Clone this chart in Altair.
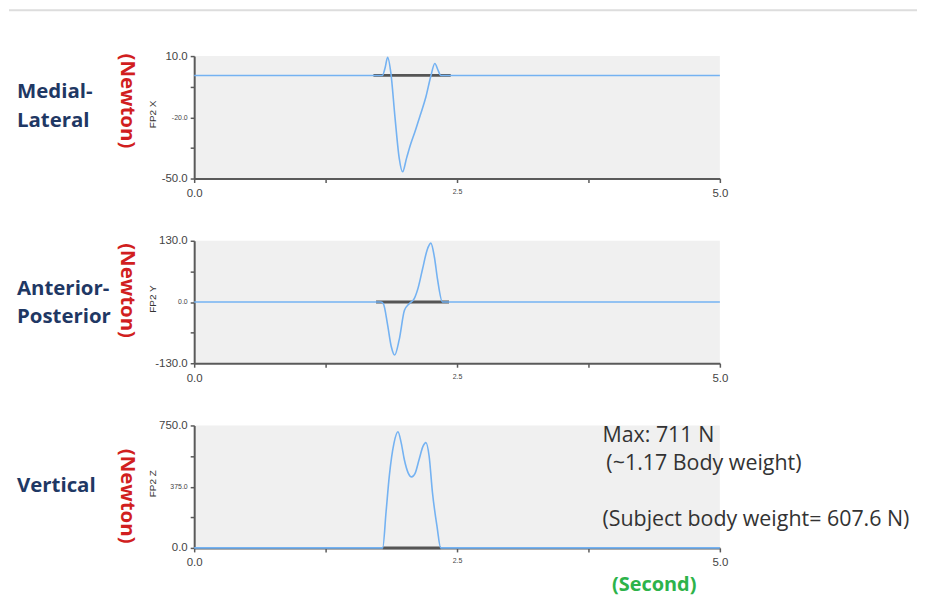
import altair as alt
import pandas as pd

# ---------------- data ----------------
time_ticks = [0.0, 1.25, 2.5, 3.75, 5.0]

ml_t = [0.0, 1.70, 1.79, 1.815, 1.84, 1.87, 1.91, 1.95, 1.982, 2.02, 2.06, 2.099, 2.15, 2.203, 2.25, 2.289, 2.32, 2.345, 2.45, 5.0]
ml_v = [0.5, 0.5, 0.5, 4.0, 9.4, 2.0, -20.0, -40.0, -46.7, -40.0, -33.0, -27.2, -19.0, -10.2, 0.0, 6.4, 3.0, 0.5, 0.5, 0.5]
ml_seg_t = [1.705, 2.44]
ml_seg_v = [0.5, 0.5]
ml_ticks = [10.0, -5.0, -20.0, -35.0, -50.0]

ap_t = [0.0, 1.777, 1.80, 1.84, 1.875, 1.907, 1.95, 2.0, 2.045, 2.093, 2.13, 2.172, 2.215, 2.251, 2.285, 2.314, 2.361, 5.0]
ap_v = [0.0, 0.0, -4.0, -49.0, -95.0, -112.5, -80.0, -17.6, -3.5, 7.0, 30.0, 70.0, 110.0, 125.0, 95.0, 49.0, 0.0, 0.0]
ap_seg_t = [1.73, 2.424]
ap_seg_v = [0.0, 0.0]
ap_ticks = [130.0, 65.0, 0.0, -65.0, -130.0]

vt_t = [0.0, 1.793, 1.825, 1.856, 1.90, 1.938, 1.97, 1.998, 2.035, 2.068, 2.10, 2.14, 2.175, 2.204, 2.235, 2.266, 2.31, 2.345, 5.0]
vt_v = [0.0, 0.0, 220.0, 441.0, 640.0, 711.0, 640.0, 543.0, 460.0, 435.0, 455.0, 543.0, 620.0, 645.0, 560.0, 341.0, 130.0, 0.0, 0.0]
vt_seg_t = [1.793, 2.345]
vt_seg_v = [0.0, 0.0]
vt_ticks = [750.0, 562.5, 375.0, 187.5, 0.0]

panel_names = [["Medial-", "Lateral"], ["Anterior-", "Posterior"], ["Vertical"]]
axis_titles = ["FP2 X", "FP2 Y", "FP2 Z"]
unit_label = "(Newton)"
time_label = "(Second)"
note_lines = ["Max: 711 N", "(~1.17 Body weight)", "(Subject body weight= 607.6 N)"]

# ---------------- styles ----------------
W, H = 528, 123
LINE = "#74b2f2"
SEG = "#555555"
NAVY = "#1f3864"
RED = "#d11f1f"
GREEN = "#2db34a"
AXC = "#5a5a5a"


def fmt_expr(vals):
    shown = " || ".join(f"datum.value == {v}" for v in vals)
    return (f"({shown}) ? ((datum.value < 0 ? '-' : '') + format(abs(datum.value), '.1f')) : ''")


def txt(s, x, y, size, color, weight="normal", angle=0, align="left", font="Open Sans"):
    return alt.Chart(pd.DataFrame({"s": [s]})).mark_text(
        fontSize=size, color=color, fontWeight=weight, angle=angle, align=align,
        baseline="middle", font=font
    ).encode(text="s:N", x=alt.value(x), y=alt.value(y))


def panel(t, v, seg_t, seg_v, ticks, title, names, name_y, newton_y, extra=None):
    top, mid, bot = ticks[0], ticks[2], ticks[4]
    xenc = alt.X("t:Q", scale=alt.Scale(domain=[0, 5], nice=False, zero=False),
                 axis=alt.Axis(values=time_ticks, labelExpr=fmt_expr([0, 2.5, 5]),
                               labelFontSize={"condition": {"test": "datum.value == 2.5", "value": 7}, "value": 11.5},
                               title=None, grid=False, domainColor=AXC, domainWidth=2,
                               tickColor=AXC, tickWidth=1.5, tickSize=4, labelColor="#444",
                               labelFont="Liberation Sans", labelPadding=5, labelFlush=False))
    yenc = alt.Y("v:Q", scale=alt.Scale(domain=[bot, top], nice=False, zero=False),
                 axis=alt.Axis(values=ticks, labelExpr=fmt_expr([top, mid, bot]),
                               labelFontSize={"condition": {"test": f"datum.value == {mid}", "value": 7}, "value": 11.5},
                               title=title, titleFontSize=10, titleFontWeight="normal", titleColor="#333",
                               titleFont="Liberation Sans", titleAngle=270, titleX=-42, titleY=58,
                               titleAlign="center", titleBaseline="middle",
                               grid=False, domainColor=AXC, domainWidth=2,
                               tickColor=AXC, tickWidth=1.5, tickSize=4, labelColor="#444",
                               labelFont="Liberation Sans", labelPadding=3, labelFlush=False))
    line = alt.Chart(pd.DataFrame({"t": t, "v": v})).mark_line(
        color=LINE, strokeWidth=1.6, interpolate="monotone").encode(x=xenc, y=yenc)
    seg = alt.Chart(pd.DataFrame({"t": seg_t, "v": seg_v})).mark_line(
        color=SEG, strokeWidth=2.8).encode(x=xenc, y=yenc)
    layers = [seg, line]
    for i, n in enumerate(names):
        layers.append(txt(n, -178, name_y + 29 * i, 20.5, NAVY, "bold"))
    layers.append(txt(unit_label, -68, newton_y, 20.5, RED, "bold", angle=90, align="center"))
    if extra:
        layers.extend(extra)
    return alt.layer(*layers).properties(width=W, height=H)


top_rule = alt.Chart(pd.DataFrame({"s": [""]})).mark_rule(color="#dddddd", strokeWidth=2).encode(
    x=alt.value(-186), x2=alt.value(726), y=alt.value(-46))

p1 = panel(ml_t, ml_v, ml_seg_t, ml_seg_v, ml_ticks, axis_titles[0], panel_names[0], 36, 45, [top_rule])
p2 = panel(ap_t, ap_v, ap_seg_t, ap_seg_v, ap_ticks, axis_titles[1], panel_names[1], 48, 50)
notes = [
    txt(note_lines[0], 410, 11, 21.5, "#333"),
    txt(note_lines[1], 414, 39, 21.5, "#333"),
    txt(note_lines[2], 410, 95, 21.5, "#333"),
    txt(time_label, 462, 160, 20, GREEN, "bold", align="center"),
]
p3 = panel(vt_t, vt_v, vt_seg_t, vt_seg_v, vt_ticks, axis_titles[2], panel_names[2], 61, 71, notes)

chart = alt.vconcat(p1, p2, p3, spacing=35.5).properties(
    padding={"left": 0, "top": 0, "right": 0, "bottom": 0}, background="white"
).configure_view(fill="#f0f0f0", stroke=None)

chart.save("out.html", embed_options={"renderer": "svg", "actions": False})
